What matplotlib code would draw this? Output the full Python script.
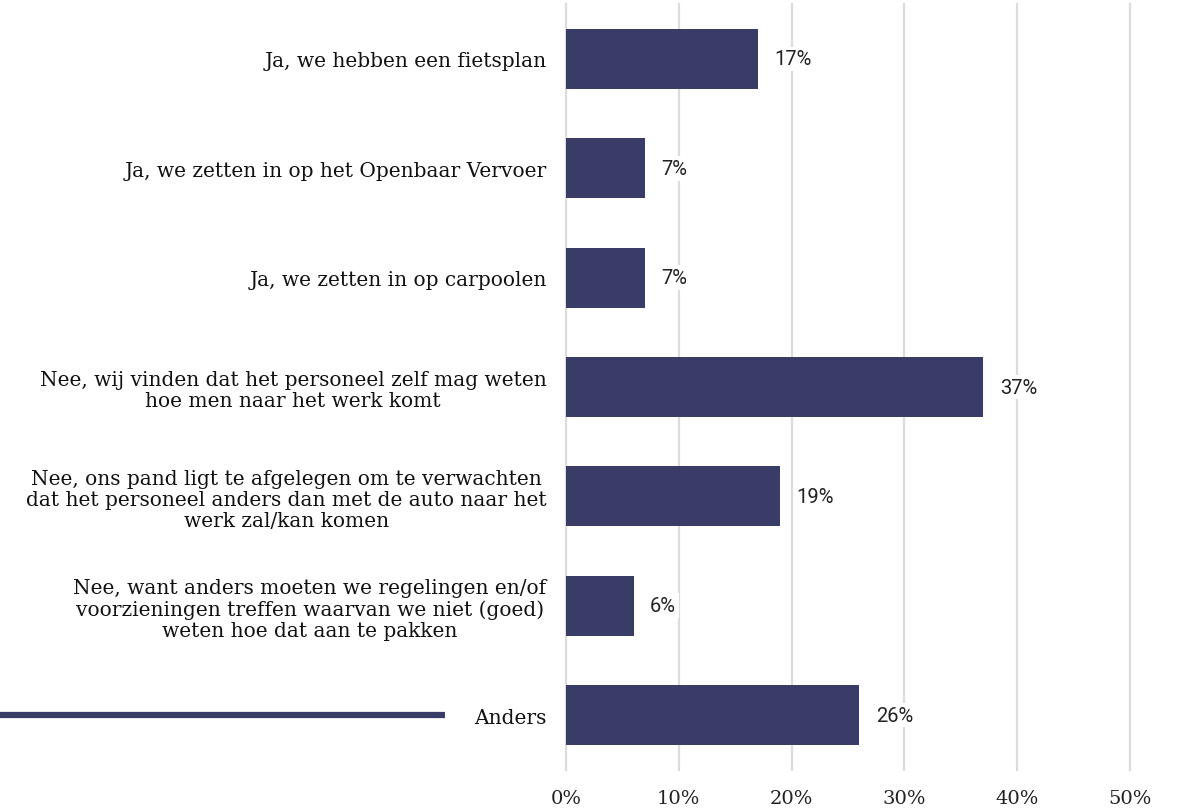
import matplotlib.pyplot as plt
import matplotlib.transforms as mtransforms
from matplotlib.lines import Line2D

# answers, top to bottom
categories = [
    "Ja, we hebben een fietsplan",
    "Ja, we zetten in op het Openbaar Vervoer",
    "Ja, we zetten in op carpoolen",
    "Nee, wij vinden dat het personeel zelf mag weten\nhoe men naar het werk komt",
    "Nee, ons pand ligt te afgelegen om te verwachten\ndat het personeel anders dan met de auto naar het\nwerk zal/kan komen",
    "Nee, want anders moeten we regelingen en/of\nvoorzieningen treffen waarvan we niet (goed)\nweten hoe dat aan te pakken",
    "Anders",
]
values = [17, 7, 7, 37, 19, 6, 26]
ticks = [0, 10, 20, 30, 40, 50]
tick_labels = ["0%", "10%", "20%", "30%", "40%", "50%"]

navy = "#393c66"

fig = plt.figure(figsize=(11.81, 8.12), dpi=100)
ax = fig.add_axes([566 / 1181, 1 - 770.7 / 812, (1130 - 566) / 1181, 765.4 / 812])

ypos = list(range(len(categories)))
ax.barh(ypos, values, height=0.55, color=navy, zorder=2)

for y, v in zip(ypos, values):
    ax.text(v + 1.45, y, f"{v}%", va="center", ha="left", fontsize=14.5,
            family="Roboto", color="#222222", zorder=3,
            bbox=dict(facecolor="white", edgecolor="none", pad=2))

ax.set_xlim(0, 50)
ax.set_ylim(len(categories) - 0.5, -0.5)
ax.set_xticks(ticks)
ax.set_xticklabels(tick_labels, family="DejaVu Serif", fontsize=14, color="#222222")
ax.set_yticks(ypos)
ax.set_yticklabels(categories, family="DejaVu Serif", fontsize=14.5, color="#111111",
                   ha="right", multialignment="center", linespacing=1.15)
ax.tick_params(axis="y", length=0, pad=14)
ax.tick_params(axis="x", length=0, pad=14)
ax.grid(axis="x", color="#dcdcdc", linewidth=1.6, zorder=0)
for gl in ax.get_xgridlines():
    gl.set_clip_on(False)
ax.set_axisbelow(True)
for s in ax.spines.values():
    s.set_visible(False)

# decorative line next to the last category
trans = mtransforms.blended_transform_factory(fig.transFigure, ax.transData)
fig.add_artist(Line2D([0, 445 / 1181], [ypos[-1], ypos[-1]], transform=trans,
                      color=navy, linewidth=4.5, solid_capstyle="butt"))

fig.savefig("out.png", dpi=100)
